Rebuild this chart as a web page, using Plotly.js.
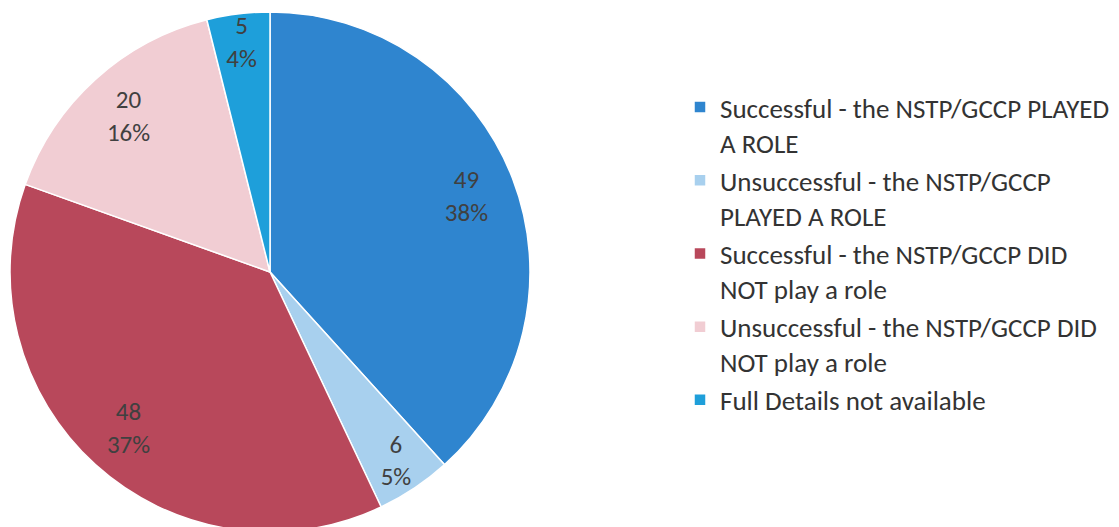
<!DOCTYPE html>
<html>
<head>
<meta charset="utf-8">
<script src="https://cdn.plot.ly/plotly-3.0.1.min.js"></script>
<style>
html, body { margin: 0; padding: 0; overflow: hidden; background: #fff; width: 1119px; height: 527px; }
#chart { width: 1119px; height: 532px; }
</style>
</head>
<body>
<div id="chart"></div>
<script>
const categories = [
  "Successful - the NSTP/GCCP PLAYED<br>A ROLE",
  "Unsuccessful - the NSTP/GCCP<br>PLAYED A ROLE",
  "Successful - the NSTP/GCCP DID<br>NOT play a role",
  "Unsuccessful - the NSTP/GCCP DID<br>NOT play a role",
  "Full Details not available"
];
const values = [49, 6, 48, 20, 5];
const percentLabels = ["38%", "5%", "37%", "16%", "4%"];
const colors = ["#2F85CF", "#A8D0EE", "#B8485B", "#F1CDD3", "#1E9FDA"];

const FONT = "Carlito, Calibri, Lato, 'Noto Sans', sans-serif";

const W = 1119, H = 532, T = 12;
const plotH = H - T;
const dom = [10 / W, (10 + plotH) / W];

const base = {
  type: "pie",
  labels: categories,
  values: values,
  sort: false,
  direction: "clockwise",
  rotation: 0,
  marker: { colors: colors, line: { color: "#ffffff", width: 1.5 } },
  textinfo: "none",
  hoverinfo: "label+value+percent",
  domain: { x: dom, y: [0, 1] },
  showlegend: true
};

const labelsRing = {
  type: "pie",
  labels: categories,
  values: values,
  sort: false,
  direction: "clockwise",
  rotation: 0,
  hole: 0.62,
  marker: { colors: values.map(() => "rgba(0,0,0,0)"), line: { width: 0 } },
  text: values.map((v, i) => v + "<br>" + percentLabels[i]),
  textinfo: "text",
  textposition: "inside",
  insidetextorientation: "horizontal",
  textfont: { family: FONT, size: 25, color: "#404040" },
  hoverinfo: "skip",
  domain: { x: dom, y: [0, 1] },
  showlegend: false
};

const layout = {
  width: W,
  height: H,
  margin: { l: 0, r: 0, t: T, b: 0 },
  paper_bgcolor: "#ffffff",
  plot_bgcolor: "#ffffff",
  showlegend: true,
  uniformtext: { minsize: 25, mode: "show" },
  legend: {
    x: 680 / W,
    xanchor: "left",
    y: 1 - (83 - T) / plotH,
    yanchor: "top",
    valign: "top",
    itemwidth: 30,
    traceorder: "normal",
    font: { family: FONT, size: 27, color: "#333333" },
    bgcolor: "rgba(0,0,0,0)"
  }
};

Plotly.newPlot("chart", [base, labelsRing], layout, { displayModeBar: false, staticPlot: true });
</script>
</body>
</html>
